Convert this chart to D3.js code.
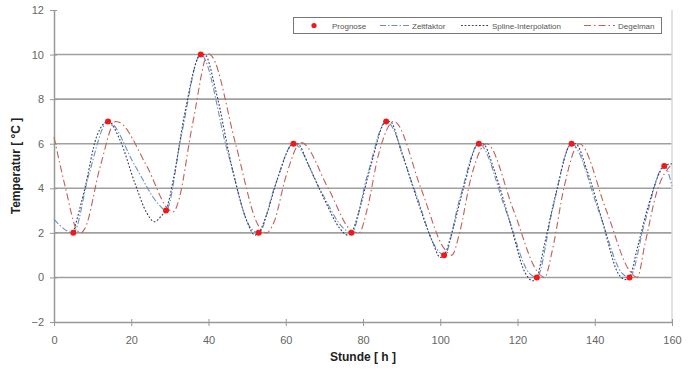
<!DOCTYPE html>
<html>
<head>
<meta charset="utf-8">
<script src="https://d3js.org/d3.v7.min.js"></script>
<style>
  body { margin: 0; background: #fff; }
  svg { font-family: "Liberation Sans", Arial, sans-serif; }
</style>
</head>
<body>
<svg id="chart" width="690" height="371"></svg>
<script>
// Prognose points (hour, temperature)
var progHours = [5, 14, 29, 38, 53, 62, 77, 86, 101, 110, 125, 134, 149, 158];
var progTemps = [2, 7, 3, 10, 2, 6, 2, 7, 1, 6, 0, 6, 0, 5];

// Zeitfaktor curve, key points
var zeitHours = [0, 5, 9, 14, 21, 27, 29, 33, 38, 45, 51, 53, 57, 62, 69, 75, 77, 81, 86, 93, 99, 101, 105, 110, 117, 123, 125, 129, 134, 141, 147, 149, 153, 158, 160];
var zeitTemps = [2.6, 2, 4.6, 7, 5, 3.3, 3, 6.4, 10, 5.6, 2.2, 2, 4, 6, 3.9, 2.2, 2, 4.5, 7, 4.1, 1.3, 1, 3.5, 6, 3, 0.2, 0, 3, 6, 3, 0.2, 0, 2.5, 5, 4.1];

// Spline-Interpolation curve, key points
var splHours = [5, 8, 11, 14, 17, 21, 24, 26, 28, 29, 31, 34, 38, 39, 42, 46, 50, 52, 53, 55, 58, 62, 63, 66, 70, 74, 76, 77, 79, 82, 86, 87, 90, 94, 98, 100, 101, 103, 106, 110, 111, 114, 118, 122, 124, 125, 127, 130, 134, 135, 138, 142, 146, 148, 149, 151, 154, 158, 160];
var splTemps = [2, 4, 6.3, 7, 6.2, 4.2, 2.9, 2.5, 2.8, 3, 4.5, 7.5, 10, 10, 8.3, 5, 2.5, 1.9, 2, 2.8, 4.5, 6, 6, 5, 3.5, 2.2, 1.9, 2, 3, 5, 7, 7, 5.6, 3.5, 1.6, 0.9, 1, 2, 4, 6, 6, 4.8, 2.5, 0.2, -0.15, 0, 1.5, 3.8, 6, 6, 4.8, 2.5, 0.2, -0.1, 0, 1.3, 3.3, 5, 5.1];

// Degelman curve, key points
var degHours = [0, 3, 6, 7, 8, 12, 16, 17, 24, 30, 31, 32, 36, 40, 41, 47, 53, 55, 57, 60, 64, 71, 77, 79, 81, 84, 88, 95, 101, 103, 105, 108, 112, 119, 125, 127, 129, 132, 136, 143, 149, 151, 153, 156, 160];
var degTemps = [6.3, 4, 2.1, 2, 2.2, 5, 7, 6.95, 5, 3, 2.95, 3.3, 7, 10.05, 9.9, 6, 2.3, 2, 2.5, 4.5, 6.05, 4, 2.1, 2, 3, 5.5, 7, 4, 1.3, 1, 2, 4.5, 6, 3, 0.3, 0, 1.2, 4, 6, 3, 0.3, 0, 1.5, 3.8, 5.1];

var xTicks = [0, 20, 40, 60, 80, 100, 120, 140, 160];
var yTicks = [-2, 0, 2, 4, 6, 8, 10, 12];
var gridTicks = [0, 2, 4, 6, 8, 10];

var margin = { top: 10, right: 18, bottom: 49, left: 54 };
var W = 690, H = 371;

var svg = d3.select("#chart");

var x = d3.scaleLinear().domain([0, 160]).range([margin.left, W - margin.right]);
var y = d3.scaleLinear().domain([-2, 12]).range([H - margin.bottom, margin.top]);

// grid lines
svg.append("g")
  .selectAll("line")
  .data(gridTicks)
  .enter()
  .append("line")
  .attr("x1", x(0))
  .attr("x2", x(160))
  .attr("y1", d => y(d))
  .attr("y2", d => y(d))
  .attr("stroke", "#a0a0a0")
  .attr("stroke-width", 1.6);

// right border of plot area
svg.append("line")
  .attr("x1", x(160)).attr("x2", x(160))
  .attr("y1", y(12)).attr("y2", y(-2))
  .attr("stroke", "#d8d8d8")
  .attr("stroke-width", 1.5);

// axes
var xAxis = svg.append("g")
  .attr("transform", `translate(0,${y(-2)})`)
  .call(d3.axisBottom(x).tickValues(xTicks).tickSizeInner(4).tickSizeOuter(0).tickPadding(10));
var yAxis = svg.append("g")
  .attr("transform", `translate(${x(0)},0)`)
  .call(d3.axisLeft(y).tickValues(yTicks).tickSizeInner(4).tickSizeOuter(0).tickPadding(6));

[xAxis, yAxis].forEach(a => {
  a.select(".domain").attr("stroke", "#999").attr("stroke-width", 1.5);
  a.selectAll(".tick line").attr("stroke", "#999");
  a.selectAll(".tick text").attr("fill", "#666").style("font-size", "11px")
    .style("font-family", "'Liberation Sans', Arial, sans-serif");
});
// ticks cross the axis
xAxis.selectAll(".tick line").attr("y1", -3);
yAxis.selectAll(".tick line").attr("x1", 3).attr("x2", -4);

// curves
function pts(hs, ts) { return hs.map((h, i) => [h, ts[i]]); }

var line = d3.line().x(d => x(d[0])).y(d => y(d[1])).curve(d3.curveMonotoneX);

var series = [
  { name: "Zeitfaktor", data: pts(zeitHours, zeitTemps), color: "#6f8ec8", dash: "6,2,1.5,2" },
  { name: "Spline-Interpolation", data: pts(splHours, splTemps), color: "#3a3f62", dash: "1.8,1.8" },
  { name: "Degelman", data: pts(degHours, degTemps), color: "#c0605a", dash: "7,3,1.5,3" }
];

svg.append("g")
  .selectAll("path")
  .data(series)
  .enter()
  .append("path")
  .attr("d", d => line(d.data))
  .attr("fill", "none")
  .attr("stroke", d => d.color)
  .attr("stroke-width", 1.1)
  .attr("stroke-dasharray", d => d.dash);

// Prognose dots
svg.append("g")
  .selectAll("circle")
  .data(pts(progHours, progTemps))
  .enter()
  .append("circle")
  .attr("cx", d => x(d[0]))
  .attr("cy", d => y(d[1]))
  .attr("r", 3)
  .attr("fill", "#f01818");

// axis titles
svg.append("text")
  .attr("x", (x(0) + x(160)) / 2)
  .attr("y", 361)
  .attr("text-anchor", "middle")
  .style("font-size", "12px")
  .style("font-weight", "bold")
  .attr("fill", "#222")
  .text("Stunde [ h ]");

svg.append("text")
  .attr("transform", `translate(20,${(y(12) + y(-2)) / 2}) rotate(-90)`)
  .attr("text-anchor", "middle")
  .style("font-size", "12px")
  .style("font-weight", "bold")
  .attr("fill", "#222")
  .text("Temperatur [ °C ]");

// legend
var leg = svg.append("g");
leg.append("rect")
  .attr("x", 293.5).attr("y", 17.5)
  .attr("width", 368).attr("height", 16)
  .attr("fill", "#fff")
  .attr("stroke", "#777")
  .attr("stroke-width", 1);

var legY = 25.5;
leg.append("circle").attr("cx", 314).attr("cy", legY).attr("r", 2.6).attr("fill", "#f01818");
var legItems = [
  { text: "Prognose", tx: 332 },
  { text: "Zeitfaktor", tx: 412, s: series[0], x1: 380, x2: 409 },
  { text: "Spline-Interpolation", tx: 492, s: series[1], x1: 461, x2: 489 },
  { text: "Degelman", tx: 618, s: series[2], x1: 584, x2: 615 }
];
legItems.forEach(it => {
  if (it.s) {
    leg.append("line")
      .attr("x1", it.x1).attr("x2", it.x2)
      .attr("y1", legY).attr("y2", legY)
      .attr("stroke", it.s.color)
      .attr("stroke-width", 1)
      .attr("stroke-dasharray", it.s.dash);
  }
  leg.append("text")
    .attr("x", it.tx).attr("y", legY + 3)
    .style("font-size", "8px")
    .attr("fill", "#555")
    .text(it.text);
});
</script>
</body>
</html>
